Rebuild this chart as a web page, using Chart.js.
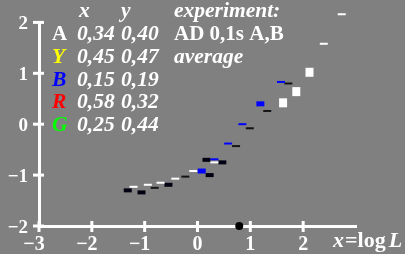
<!DOCTYPE html>
<html><head><meta charset="utf-8">
<script src="https://cdn.jsdelivr.net/npm/chart.js@4/dist/chart.umd.min.js"></script>
<style>html,body{margin:0;padding:0;background:#808080;overflow:hidden}canvas{display:block}</style>
</head><body><canvas id="c" width="405" height="254"></canvas>
<script>
// ---- data ----
const xTicks = [-3, -2, -1, 0, 1, 2];
const yTicks = [-2, -1, 0, 1, 2];
const xTickLabels = ['\u22123', '\u22122', '\u22121', '0', '1', '2'];
const yTickLabels = ['\u22122', '\u22121', '0', '1', '2'];

const blackBarX = [-1.32, -1.06, -0.55, 0.17, 0.23, 0.47];
const blackBarY = [-1.30, -1.34, -1.19, -0.70, -1.00, -0.75];
const whiteLineX = [-1.21, -0.94, -0.70, -0.42, -0.08, 0.32, 2.39, 2.73];
const whiteLineY = [-1.23, -1.19, -1.15, -1.07, -0.92, -0.75, 1.58, 2.16];
const darkLineX = [-0.81, -0.23, 0.73, 0.99, 1.32, 1.72];
const darkLineY = [-1.25, -1.03, -0.43, -0.08, 0.26, 0.80];
const blueLineX = [0.32, 0.58, 0.85, 1.58];
const blueLineY = [-0.69, -0.38, 0.00, 0.83];
const blueBarX = [0.08, 1.19];
const blueBarY = [-0.92, 0.40];
const whiteSquareX = [1.62, 1.87, 2.12];
const whiteSquareY = [0.42, 0.64, 1.02];
const dotX = [0.79];
const dotY = [-2.0];

const legendLetters = ['A', 'Y', 'B', 'R', 'G'];
const legendLetterColors = ['#ffffff', '#ffff00', '#0000ff', '#ff0000', '#00ff00'];
const legendX = ['0,34', '0,45', '0,15', '0,58', '0,25'];
const legendY = ['0,40', '0,47', '0,19', '0,32', '0,44'];
const legendNotes = ['AD 0,1s A,B', 'average'];
const legendHeader = ['x', 'y', 'experiment:'];

// ---- build ----
const pts = (xs, ys) => xs.map((x, i) => ({x, y: ys[i]}));
const SERIF = '"Liberation Serif","Times New Roman",serif';
const IT = 'italic bold 21.5px ' + SERIF;
const UP = 'bold 21px ' + SERIF;

function bar(data, color, thick) {
  return {data, pointStyle: 'line', pointRadius: 4, pointHoverRadius: 4,
    pointBorderWidth: thick, pointHoverBorderWidth: thick,
    borderColor: color, pointBorderColor: color, backgroundColor: color, showLine: false, clip: false};
}

const overlay = {
  id: 'overlay',
  beforeDatasetsDraw(chart) {
    chart._keepArea = chart.chartArea;
    chart.chartArea = {left: 0, top: 0, right: chart.width, bottom: chart.height, width: chart.width, height: chart.height};
  },
  afterDatasetsDraw(chart) {
    if (chart._keepArea) chart.chartArea = chart._keepArea;
  },
  afterDraw(chart) {
    const ctx = chart.ctx, xs = chart.scales.x, ys = chart.scales.y;
    const ca = chart.chartArea;
    ctx.save();
    ctx.strokeStyle = '#fff'; ctx.lineWidth = 3; ctx.lineCap = 'butt';
    xTicks.forEach(v => {
      const px = xs.getPixelForValue(v);
      ctx.beginPath(); ctx.moveTo(px, ca.bottom - 5); ctx.lineTo(px, ca.bottom + 6); ctx.stroke();
    });
    yTicks.forEach(v => {
      const py = ys.getPixelForValue(v);
      ctx.beginPath(); ctx.moveTo(ca.left - 6, py); ctx.lineTo(ca.left + 5, py); ctx.stroke();
    });
    // legend text
    ctx.textBaseline = 'alphabetic'; ctx.textAlign = 'left';
    ctx.fillStyle = '#fff';
    const base0 = 17, step = 23;
    const colL = 52, colX = 77, colY = 121, colN = 174;
    ctx.font = IT;
    ctx.fillText(legendHeader[0], colX + 2, base0);
    ctx.fillText(legendHeader[1], colY, base0);
    ctx.fillText(legendHeader[2], colN, base0);
    legendLetters.forEach((l, i) => {
      const b = base0 + step * (i + 1) - (i > 1 ? 0.5 * (i - 1) : 0);
      ctx.fillStyle = legendLetterColors[i];
      ctx.font = i === 0 ? UP : IT;
      ctx.fillText(l, colL, b);
      ctx.fillStyle = '#fff';
      ctx.font = IT;
      ctx.fillText(legendX[i], colX, b);
      ctx.fillText(legendY[i], colY, b);
      if (legendNotes[i]) { ctx.font = i === 0 ? UP : IT; ctx.fillText(legendNotes[i], colN, b); }
    });
    // axis title x=logL
    let xx = 333; const by = 247;
    ctx.font = 'italic bold 22px ' + SERIF; ctx.fillText('x', xx, by); xx += ctx.measureText('x').width + 1;
    ctx.font = 'bold 22px ' + SERIF; ctx.fillText('=log', xx, by); xx += ctx.measureText('=log').width + 3;
    ctx.font = 'italic bold 22px ' + SERIF; ctx.fillText('L', xx, by);
    ctx.restore();
  }
};

new Chart(document.getElementById('c'), {
  type: 'scatter',
  data: {datasets: [
    {data: pts(dotX, dotY), pointStyle: 'circle', pointRadius: 4, pointHoverRadius: 4, backgroundColor: '#000', borderColor: '#000', pointBorderWidth: 0, clip: false},
    bar(pts(whiteSquareX, whiteSquareY), '#ffffff', 9),
    bar(pts(blueLineX, blueLineY), '#0000ff', 2),
    bar(pts(blueBarX, blueBarY), '#0000ff', 5),
    bar(pts(whiteLineX, whiteLineY), '#ffffff', 2),
    bar(pts(darkLineX, darkLineY), '#141414', 2),
    bar(pts(blackBarX, blackBarY), '#000010', 4)
  ]},
  options: {
    responsive: false, animation: false, events: [],
    layout: {padding: {left: 0, right: 49, top: 14, bottom: 0}},
    plugins: {legend: {display: false}, tooltip: {enabled: false}},
    scales: {
      x: {type: 'linear', min: -3, max: 3,
        afterBuildTicks: s => { s.ticks = xTicks.map(v => ({value: v})); },
        afterFit: s => { s.height = 28; },
        ticks: {color: '#fff', font: {family: SERIF, size: 20, weight: 'bold'}, padding: 7,
          maxRotation: 0, autoSkip: false,
          callback: v => { const i = xTicks.indexOf(v); return i < 0 ? '' : xTickLabels[i] + (v < 0 ? '\u2002' : ''); }},
        grid: {display: false, drawTicks: false},
        border: {display: true, color: '#fff', width: 3}
      },
      y: {type: 'linear', min: -2, max: 2,
        afterBuildTicks: s => { s.ticks = yTicks.map(v => ({value: v})); },
        afterFit: s => { s.width = 39; },
        ticks: {color: '#fff', font: {family: SERIF, size: 19, weight: 'bold'}, padding: 11, autoSkip: false,
          labelOffset: 2,
          callback: v => { const i = yTicks.indexOf(v); return i < 0 ? '' : yTickLabels[i]; }},
        grid: {display: false, drawTicks: false},
        border: {display: true, color: '#fff', width: 3}
      }
    }
  },
  plugins: [overlay]
});
</script></body></html>
